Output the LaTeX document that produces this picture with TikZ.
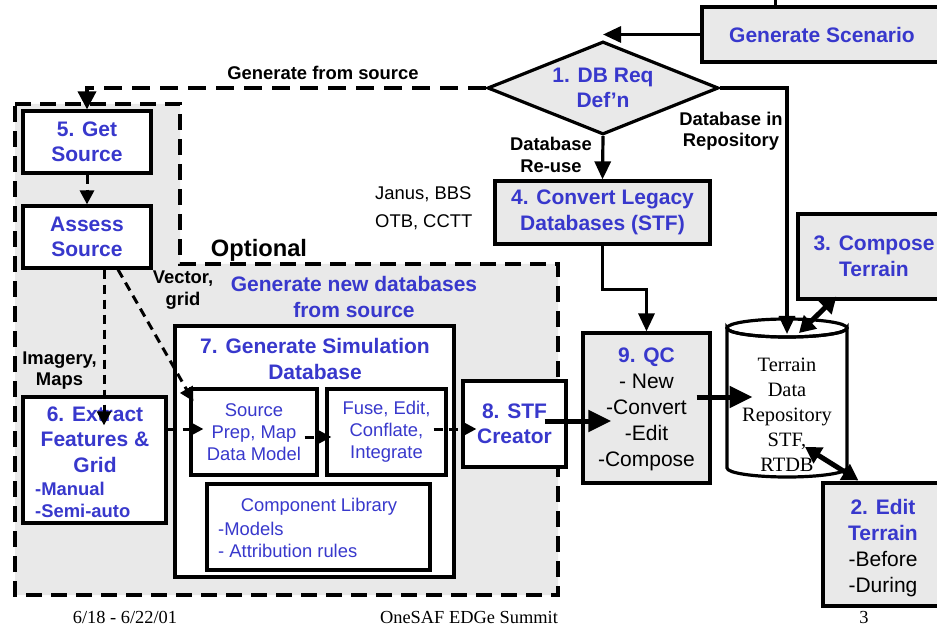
\documentclass[tikz,border=0pt]{standalone}
\usepackage{fontspec}
\setmainfont{Liberation Sans}
\newfontfamily\tmsfont{Liberation Serif}
\usetikzlibrary{shapes.geometric,arrows.meta,calc}
\definecolor{tblue}{RGB}{56,56,204}
\definecolor{tgray}{RGB}{233,233,233}
\begin{document}
\begin{tikzpicture}[x=1pt,y=-1pt,
  boxw/.style={draw,line width=3.2pt,fill=white,inner sep=0pt},
  boxg/.style={draw,line width=3.2pt,fill=tgray,inner sep=0pt},
  tb/.style={font=\fontsize{21}{25.5}\selectfont\bfseries,text=tblue,align=center,inner sep=0pt},
  tbs/.style={font=\fontsize{18.4}{22}\selectfont\bfseries,text=tblue,align=left,inner sep=0pt},
  tr/.style={font=\fontsize{18.4}{22}\selectfont,text=tblue,align=center,inner sep=0pt},
  trl/.style={font=\fontsize{18.4}{22}\selectfont,text=tblue,align=left,inner sep=0pt},
  lb/.style={font=\fontsize{18.4}{21.5}\selectfont\bfseries,align=center,inner sep=0pt},
  qr/.style={font=\fontsize{21}{26}\selectfont,align=center,inner sep=0pt},
  arr/.style={line width=3.2pt,-{Triangle[length=18pt,width=16pt]}},
  thk/.style={line width=5pt,-{Triangle[length=23pt,width=21pt]}},
  dbl/.style={line width=5pt,{Triangle[length=16pt,width=18pt]}-{Triangle[length=16pt,width=18pt]}},
  darr/.style={line width=3pt,dash pattern=on 9pt off 6pt,-{Triangle[length=14pt,width=14pt]}},
  ftr/.style={font=\tmsfont\fontsize{18.4}{22}\selectfont,inner sep=0pt}
]
\useasboundingbox (0,0) rectangle (937,628);
\fill[white] (0,0) rectangle (937,628);

% optional region
\draw[fill=tgray,line width=4pt,dash pattern=on 16pt off 9pt]
  (15,104) -- (180,104) -- (180,264) -- (558,264) -- (558,595) -- (15,595) -- cycle;

% top right boxes
\node[boxg,tb,minimum width=240,minimum height=55] (gs) at (822,34.5) {Generate Scenario};
\node[diamond,draw,line width=3.2pt,fill=tgray,minimum width=231,minimum height=93,inner sep=0pt,aspect=2.48] (db) at (603,88) {};
\node[tb] (dbt) at (603,88) {1. DB Req\\Def’n};
\node[boxg,tb,minimum width=215,minimum height=63] (conv) at (602.5,212.5) {4. Convert Legacy\\Databases (STF)};
\node[boxg,minimum width=127,minimum height=150] (qc) at (646.5,408) {};
\node[qr] (qct) at (646.5,409) {{\bfseries\color{tblue}9. QC}\\- New\\-Convert\\-Edit\\-Compose};
\node[boxg,tb,minimum width=152,minimum height=85] (comp) at (874,256.5) {3. Compose\\Terrain};
\node[boxg,minimum width=120,minimum height=123] (edit) at (883,544.5) {};
\node[qr,text depth=0pt] (editt) at (883,546) {{\bfseries\color{tblue}2. Edit}\\{\bfseries\color{tblue}Terrain}\\-Before\\-During};

% cylinder
\path[fill=white,draw,line width=3.2pt] (727,328) -- (727,468)
  arc[start angle=180,end angle=0,x radius=60,y radius=9] -- (847,328)
  arc[start angle=0,end angle=180,x radius=60,y radius=9] -- cycle;
\draw[line width=3.2pt] (787,328) ellipse [x radius=60,y radius=9];
\node[font=\tmsfont\fontsize{20.4}{25}\selectfont,align=center,inner sep=0pt] (repo) at (787,415) {Terrain\\Data\\Repository\\STF,\\RTDB};
\coordinate (reptop) at (787,334);
\coordinate (reptopb) at (799,333);
\coordinate (repin) at (805,447);

% left boxes
\node[boxw,tb,minimum width=128,minimum height=62] (gets) at (87,142) {5. Get\\Source};
\node[boxw,tb,minimum width=128,minimum height=62] (asses) at (87,237) {Assess\\Source};
\node[boxw,minimum width=143,minimum height=126] (extr) at (94.5,460) {};
\node[tb] (extrt) at (95,439.5) {6. Extract\\Features \&\\Grid};
\node[tbs,anchor=west] (extrl) at (35,500) {-Manual\\-Semi-auto};

\node[boxw,minimum width=279,minimum height=251] (gsim) at (314.5,451.5) {};
\node[tb] (gsimt) at (315,359) {7. Generate Simulation\\Database};
\node[boxw,tr,minimum width=126,minimum height=86] (sprep) at (254,432) {Source\\Prep, Map\\Data Model};
\node[boxw,tr,minimum width=119,minimum height=86] (fuse) at (386.5,432) {Fuse, Edit,\\Conflate,\\Integrate};
\node[boxw,minimum width=223,minimum height=86] (clib) at (318.5,527) {};
\node[tr] (clibt) at (319,507) {Component Library};
\node[trl,anchor=west] (clibl) at (218,540) {-Models\\- Attribution rules};
\node[boxw,tb,minimum width=103,minimum height=86] (stf) at (514.5,424) {8. STF\\Creator};

% labels
\node[lb] (lgen) at (323,73) {Generate from source};
\node[lb] (lrep) at (731,131) {Database in\\Repository};
\node[lb] (lreuse) at (551,155) {Database\\Re-use};
\node[font=\fontsize{18.4}{28}\selectfont,align=left,inner sep=0pt,anchor=west] (ljan) at (375,208) {Janus, BBS\\OTB, CCTT};
\node[font=\fontsize{23.7}{28}\selectfont\bfseries,inner sep=0pt] (lopt) at (259,250) {Optional};
\node[tb] (lnew) at (354,297) {Generate new databases\\from source};
\node[lb] (lvec) at (183,290) {Vector,\\grid};
\node[lb] (limg) at (59.5,370.5) {Imagery,\\Maps};

% footer
\node[ftr] (f1) at (125,617) {6/18 - 6/22/01};
\node[ftr] (f2) at (469,617) {OneSAF EDGe Summit};
\node[ftr] (f3) at (864,617) {3};

% connectors
\draw[line width=3.2pt] ($(gs.north west)+(75,0)$) -- ++(0,-8);
\draw[arr] (gs.west) -- (gs.west -| db.north);
\draw[line width=3.5pt,dash pattern=on 18pt off 10pt,-{Triangle[length=18pt,width=18pt]}] (db.west) -| (gets.north);
\draw[arr] (db.south) -- (conv.north);
\draw[arr] (db.east) -| (reptop);
\draw[arr] (conv.south) -- ++(0,44) -| (qc.north);
\draw[thk] ($(qc.east)+(-15,-11)$) -- ($(qc.east)+(41,-11)$);
\draw[thk] ($(stf.east)+(-23,-3)$) -- ($(qc.west)+(30,13)$);
\draw[dbl] ($(comp.south west)+(40,-4)$) -- (reptopb);
\draw[dbl] (repin) -- ($(edit.north west)+(37,-1)$);

\draw[darr] (gets.south) -- (asses.north);
\draw[darr] ($(asses.south)+(17,0)$) -- ($(extr.north)+(9.5,30)$);
\draw[darr] ($(asses.south)+(31,0)$) -- ($(sprep.north west)+(4,14)$);
\draw[darr] ($(extr.east)+(0,-31)$) -- ($(sprep.west)+(14,-3)$);
\draw[darr] ($(sprep.east)+(-14,5)$) -- ($(fuse.west)+(6,5)$);
\draw[darr] ($(fuse.east)+(-14,-3)$) -- ($(stf.west)+(15,5)$);
\end{tikzpicture}
\end{document}
